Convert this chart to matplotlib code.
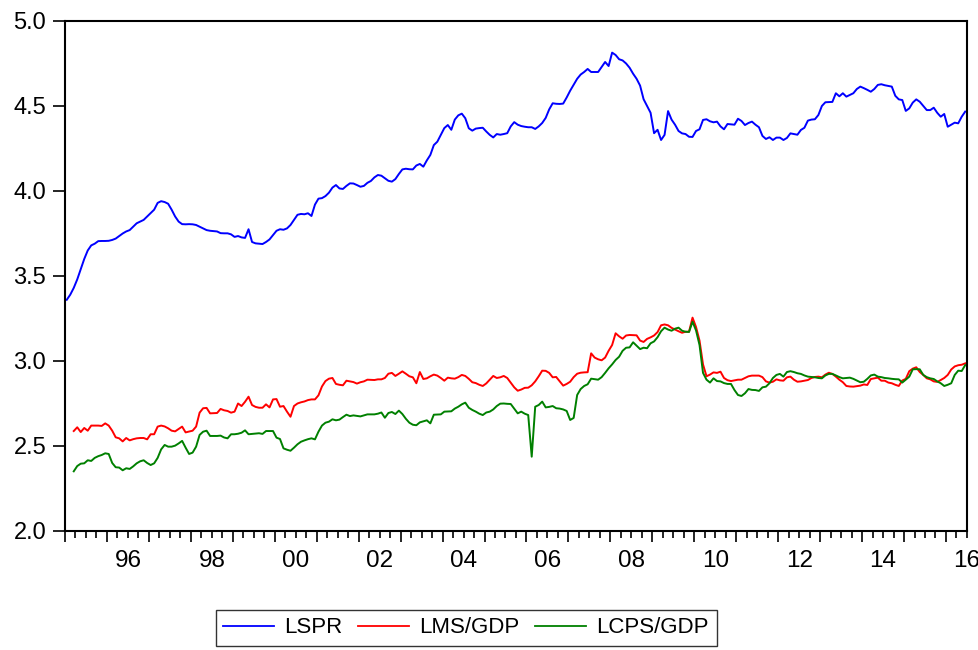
import numpy as np
import pandas as pd
import matplotlib
matplotlib.use("Agg")
import matplotlib.pyplot as plt

plt.rcParams['font.family'] = ['Liberation Sans', 'DejaVu Sans']

# monthly observations, 1995M01 - 2016M06
months = pd.period_range("1995-01", "2016-06", freq="M")

lspr = [
    3.36, 3.39, 3.43, 3.48, 3.54, 3.60, 3.65, 3.68, 3.69, 3.705, 3.706, 3.706,
    3.707, 3.712, 3.72, 3.735, 3.75, 3.762, 3.77, 3.79, 3.81, 3.82, 3.83, 3.85,
    3.87, 3.89, 3.93, 3.94, 3.935, 3.925, 3.89, 3.85, 3.82, 3.805, 3.804, 3.805,
    3.804, 3.80, 3.79, 3.78, 3.77, 3.766, 3.764, 3.762, 3.752, 3.751, 3.751, 3.745,
    3.73, 3.735, 3.727, 3.724, 3.775, 3.70, 3.692, 3.69, 3.688, 3.70, 3.715, 3.74,
    3.766, 3.775, 3.772, 3.78, 3.80, 3.83, 3.86, 3.865, 3.863, 3.869, 3.853, 3.92,
    3.955, 3.958, 3.97, 3.99, 4.02, 4.035, 4.015, 4.012, 4.03, 4.045, 4.044, 4.035,
    4.025, 4.03, 4.048, 4.059, 4.08, 4.094, 4.09, 4.075, 4.06, 4.055, 4.07, 4.10,
    4.127, 4.131, 4.128, 4.127, 4.15, 4.159, 4.143, 4.18, 4.212, 4.27, 4.29, 4.33,
    4.37, 4.388, 4.36, 4.42, 4.445, 4.455, 4.428, 4.369, 4.355, 4.367, 4.37, 4.372,
    4.35, 4.33, 4.315, 4.335, 4.331, 4.335, 4.34, 4.38, 4.405, 4.39, 4.382, 4.378,
    4.375, 4.375, 4.365, 4.38, 4.40, 4.43, 4.48, 4.516, 4.513, 4.512, 4.514, 4.55,
    4.59, 4.625, 4.66, 4.685, 4.70, 4.718, 4.70, 4.70, 4.70, 4.73, 4.759, 4.735,
    4.814, 4.80, 4.775, 4.768, 4.75, 4.725, 4.69, 4.66, 4.62, 4.54, 4.50, 4.46,
    4.34, 4.36, 4.30, 4.33, 4.47, 4.42, 4.39, 4.353, 4.339, 4.335, 4.319, 4.318,
    4.353, 4.363, 4.418, 4.422, 4.41, 4.404, 4.408, 4.38, 4.363, 4.394, 4.392, 4.39,
    4.425, 4.412, 4.388, 4.40, 4.408, 4.39, 4.375, 4.324, 4.306, 4.316, 4.30, 4.314,
    4.314, 4.30, 4.312, 4.339, 4.335, 4.331, 4.359, 4.372, 4.414, 4.42, 4.422, 4.447,
    4.50, 4.522, 4.523, 4.524, 4.575, 4.557, 4.575, 4.555, 4.565, 4.575, 4.60, 4.614,
    4.605, 4.595, 4.584, 4.60, 4.624, 4.628, 4.622, 4.618, 4.614, 4.56, 4.539, 4.535,
    4.471, 4.486, 4.52, 4.539, 4.525, 4.50, 4.476, 4.476, 4.49, 4.46, 4.437, 4.453,
    4.378, 4.39, 4.402, 4.398, 4.437, 4.467,
]

lms_gdp = [
    np.nan, np.nan, 2.588, 2.61, 2.582, 2.606, 2.59, 2.62, 2.62, 2.62, 2.618, 2.633,
    2.62, 2.59, 2.551, 2.545, 2.527, 2.547, 2.533, 2.54, 2.545, 2.547, 2.547, 2.539,
    2.569, 2.569, 2.614, 2.62, 2.615, 2.604, 2.59, 2.586, 2.60, 2.614, 2.58, 2.585,
    2.59, 2.614, 2.696, 2.722, 2.724, 2.692, 2.693, 2.694, 2.718, 2.71, 2.706, 2.696,
    2.702, 2.75, 2.735, 2.76, 2.79, 2.741, 2.73, 2.725, 2.725, 2.745, 2.727, 2.774,
    2.776, 2.731, 2.735, 2.702, 2.672, 2.735, 2.75, 2.757, 2.762, 2.77, 2.774, 2.774,
    2.798, 2.85, 2.882, 2.896, 2.90, 2.865, 2.86, 2.857, 2.884, 2.88, 2.876, 2.867,
    2.875, 2.88, 2.89, 2.889, 2.888, 2.892, 2.892, 2.90, 2.925, 2.93, 2.912, 2.925,
    2.939, 2.925, 2.91, 2.904, 2.869, 2.935, 2.894, 2.898, 2.91, 2.92, 2.914, 2.90,
    2.884, 2.902, 2.898, 2.896, 2.905, 2.918, 2.912, 2.895, 2.875, 2.87, 2.86, 2.853,
    2.868, 2.89, 2.912, 2.90, 2.904, 2.912, 2.90, 2.873, 2.845, 2.825, 2.832, 2.842,
    2.843, 2.857, 2.88, 2.91, 2.943, 2.942, 2.93, 2.904, 2.906, 2.88, 2.855, 2.865,
    2.878, 2.905, 2.925, 2.931, 2.933, 2.934, 3.045, 3.02, 3.01, 3.004, 3.02, 3.06,
    3.094, 3.163, 3.145, 3.131, 3.15, 3.153, 3.152, 3.151, 3.12, 3.112, 3.13, 3.139,
    3.15, 3.17, 3.21, 3.215, 3.21, 3.195, 3.185, 3.175, 3.166, 3.172, 3.172, 3.255,
    3.20, 3.12, 2.98, 2.91, 2.92, 2.933, 2.93, 2.937, 2.90, 2.887, 2.882, 2.886,
    2.89, 2.89, 2.90, 2.91, 2.914, 2.914, 2.914, 2.905, 2.88, 2.873, 2.878, 2.892,
    2.886, 2.884, 2.904, 2.908, 2.89, 2.878, 2.88, 2.884, 2.888, 2.90, 2.906, 2.908,
    2.904, 2.92, 2.931, 2.924, 2.908, 2.89, 2.875, 2.853, 2.85, 2.849, 2.852, 2.855,
    2.862, 2.859, 2.894, 2.898, 2.902, 2.884, 2.884, 2.873, 2.869, 2.86, 2.853, 2.885,
    2.895, 2.94, 2.955, 2.963, 2.935, 2.918, 2.898, 2.892, 2.88, 2.877, 2.888, 2.90,
    2.918, 2.95, 2.968, 2.975, 2.978, 2.986,
]

lcps_gdp = [
    np.nan, np.nan, 2.351, 2.382, 2.396, 2.398, 2.416, 2.412, 2.43, 2.44, 2.447, 2.457,
    2.453, 2.40, 2.375, 2.373, 2.357, 2.369, 2.365, 2.38, 2.398, 2.41, 2.416, 2.40,
    2.388, 2.398, 2.43, 2.48, 2.506, 2.496, 2.496, 2.502, 2.515, 2.53, 2.49, 2.453,
    2.461, 2.496, 2.565, 2.584, 2.59, 2.559, 2.559, 2.559, 2.561, 2.55, 2.545, 2.569,
    2.569, 2.572, 2.578, 2.592, 2.569, 2.571, 2.573, 2.575, 2.571, 2.588, 2.588, 2.588,
    2.549, 2.541, 2.486, 2.478, 2.472, 2.49, 2.51, 2.525, 2.533, 2.54, 2.545, 2.539,
    2.584, 2.62, 2.637, 2.643, 2.657, 2.651, 2.655, 2.67, 2.684, 2.676, 2.68, 2.677,
    2.674, 2.68, 2.686, 2.686, 2.686, 2.69, 2.697, 2.666, 2.694, 2.70, 2.688, 2.708,
    2.688, 2.66, 2.637, 2.625, 2.622, 2.639, 2.645, 2.651, 2.633, 2.684, 2.685, 2.686,
    2.702, 2.703, 2.704, 2.72, 2.731, 2.745, 2.755, 2.725, 2.712, 2.702, 2.69, 2.682,
    2.697, 2.702, 2.715, 2.735, 2.749, 2.75, 2.748, 2.747, 2.72, 2.692, 2.702, 2.69,
    2.682, 2.437, 2.731, 2.741, 2.761, 2.727, 2.73, 2.735, 2.722, 2.72, 2.715, 2.706,
    2.653, 2.665, 2.80, 2.835, 2.853, 2.863, 2.896, 2.893, 2.89, 2.905, 2.93, 2.957,
    2.98, 3.006, 3.025, 3.06, 3.078, 3.08, 3.11, 3.09, 3.07, 3.078, 3.075, 3.104,
    3.115, 3.14, 3.175, 3.196, 3.185, 3.178, 3.19, 3.196, 3.178, 3.172, 3.171, 3.231,
    3.18, 3.094, 2.93, 2.89, 2.873, 2.898, 2.882, 2.88, 2.87, 2.865, 2.865, 2.829,
    2.80, 2.794, 2.81, 2.835, 2.83, 2.829, 2.824, 2.845, 2.849, 2.869, 2.90, 2.918,
    2.924, 2.908, 2.935, 2.94, 2.935, 2.928, 2.924, 2.915, 2.908, 2.906, 2.904, 2.90,
    2.898, 2.915, 2.924, 2.924, 2.915, 2.905, 2.898, 2.90, 2.902, 2.895, 2.885, 2.875,
    2.878, 2.895, 2.915, 2.92, 2.908, 2.905, 2.90, 2.898, 2.895, 2.893, 2.892, 2.873,
    2.89, 2.908, 2.951, 2.952, 2.951, 2.918, 2.905, 2.898, 2.894, 2.88, 2.869, 2.853,
    2.86, 2.869, 2.918, 2.943, 2.941, 2.976,
]

year_labels = ["96", "98", "00", "02", "04", "06", "08", "10", "12", "14", "16"]
label_years = [1996, 1998, 2000, 2002, 2004, 2006, 2008, 2010, 2012, 2014, 2016]

# decimal year at the middle of each month
t = months.year + (months.month - 0.5) / 12.0

fig = plt.figure(figsize=(9.79, 6.5), dpi=100)
ax = fig.add_axes([0.0664, 0.1831, 0.9213, 0.7846])

ax.plot(t, lspr, color="#0000ff", lw=1.4, label="LSPR")
ax.plot(t, lms_gdp, color="#ff0000", lw=1.4, label="LMS/GDP")
ax.plot(t, lcps_gdp, color="#008000", lw=1.4, label="LCPS/GDP")

ax.set_xlim(1995.0, 2016.5)
ax.set_ylim(2.0, 5.0)
ax.set_yticks(np.arange(2.0, 5.01, 0.5))
ax.set_yticklabels([f"{v:.1f}" for v in np.arange(2.0, 5.01, 0.5)])

# year ticks (long) and quarter ticks (short), labels sit mid-year
ax.set_xticks(np.arange(1995, 2017))
ax.set_xticks(np.arange(1995, 2016.6, 0.25), minor=True)
ax.set_xticklabels([])
ax.tick_params(axis="x", which="major", direction="out", length=8, width=1.2)
ax.tick_params(axis="x", which="minor", direction="out", length=5, width=1.2)
ax.tick_params(axis="y", direction="out", length=8.5, width=1.2, pad=5,
               labelsize=17)

secax = ax.secondary_xaxis("bottom")
secax.set_xticks([y + 0.5 for y in label_years])
secax.set_xticklabels(year_labels)
secax.tick_params(length=0, pad=14, labelsize=17.5)
secax.spines["bottom"].set_visible(False)

for s in ax.spines.values():
    s.set_linewidth(1.5)

leg = fig.legend(loc="center", bbox_to_anchor=(0.476, 0.034), ncol=3,
                 fontsize=16, frameon=True, fancybox=False, handlelength=2.3,
                 handletextpad=0.45, columnspacing=0.7, borderpad=0.35)
leg.get_frame().set_edgecolor("black")
leg.get_frame().set_linewidth(1.0)
for line in leg.get_lines():
    line.set_linewidth(1.3)

fig.savefig("out.png", dpi=100)
